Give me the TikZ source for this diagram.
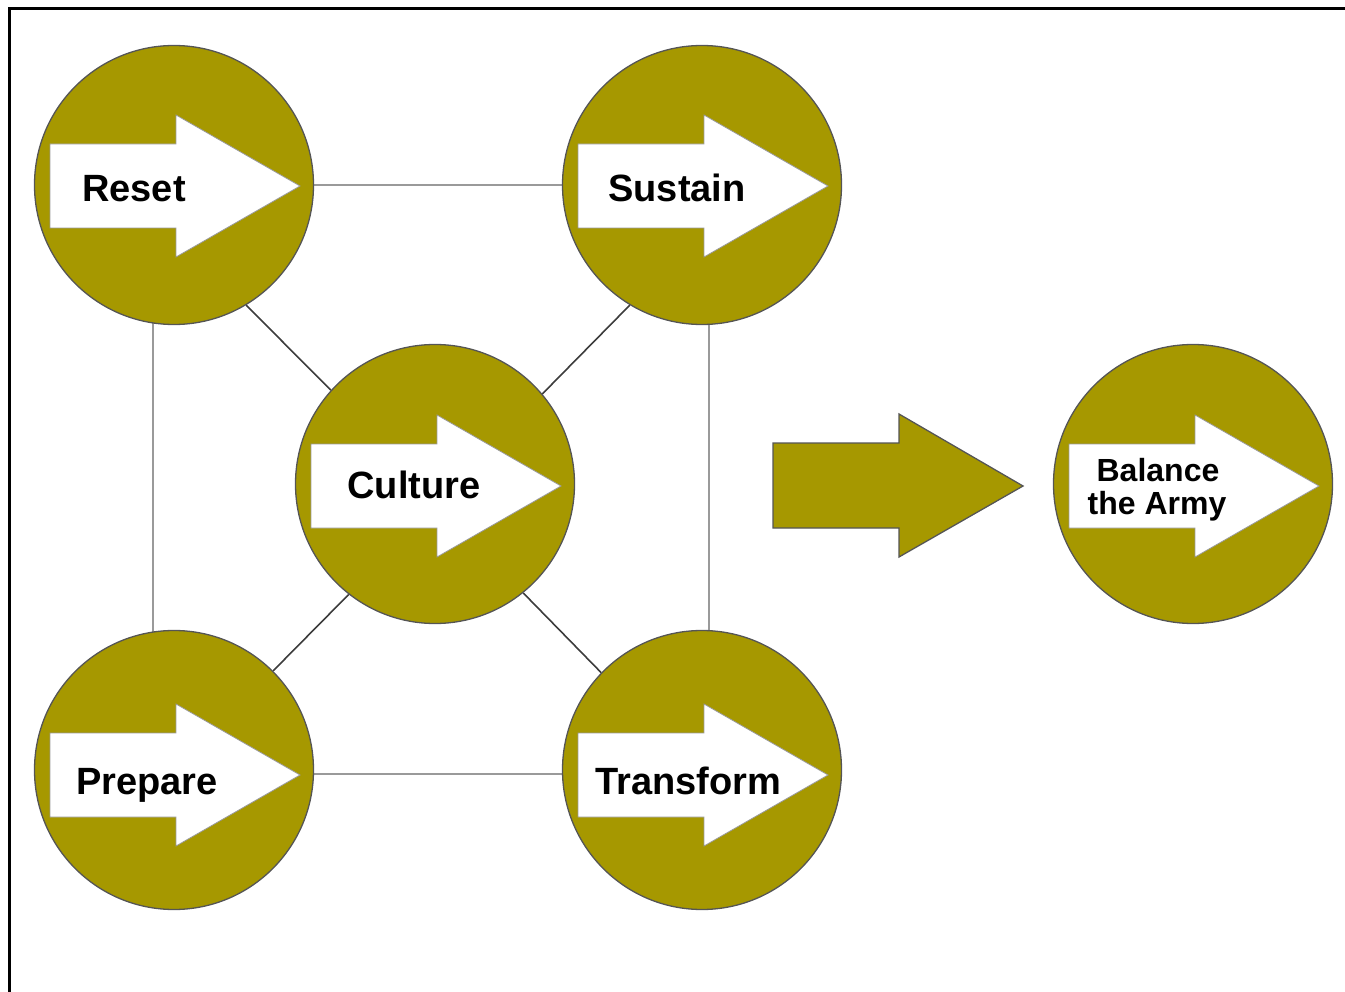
\documentclass[tikz,border=0pt]{standalone}
\usepackage{fontspec}
\setmainfont{Liberation Sans}
\usetikzlibrary{backgrounds}
\definecolor{oliv}{HTML}{A69800}
\definecolor{rim}{HTML}{555555}
\definecolor{lightlink}{HTML}{9A9A9A}
\definecolor{darklink}{HTML}{3C3C3C}
\tikzset{
  ball/.style={circle, fill=oliv, draw=rim, line width=1.3pt, minimum size=279pt, inner sep=0pt},
  warrow/.pic={\path[fill=white, draw=gray!80, line width=0.8pt]
      (-124,-42) -- (2,-42) -- (2,-71) -- (126,0) -- (2,71) -- (2,42) -- (-124,42) -- cycle;},
  txt/.style={font=\fontsize{38}{40}\selectfont\bfseries, inner sep=0pt, anchor=base},
  smalltxt/.style={font=\fontsize{32}{33}\selectfont\bfseries, inner sep=0pt, anchor=base},
  straightlink/.style={draw=lightlink, line width=2pt},
  diaglink/.style={draw=darklink, line width=1.6pt},
}
\begin{document}
\begin{tikzpicture}[x=1pt,y=-1pt]
\useasboundingbox (0,0) rectangle (1345,992);
\draw[line width=3pt] (9,992) -- (9,9) -- (1345,9);

\node[ball] (reset) at (174,185) {};
\node[ball] (sustain) at (702,185) {};
\node[ball] (culture) at (435,484) {};
\node[ball] (prepare) at (174,770) {};
\node[ball] (transform) at (702,770) {};
\node[ball] (balance) at (1193,484) {};

\begin{scope}[on background layer]
  \draw[straightlink] (reset.east) -- (sustain.west);
  \draw[straightlink] ([xshift=-4pt,yshift=-4pt]prepare.east) -- ([xshift=4pt,yshift=-4pt]transform.west);
  \draw[straightlink] ([xshift=-21pt]reset.center) -- ([xshift=-21pt]prepare.center);
  \draw[straightlink] ([xshift=7pt]sustain.center) -- ([xshift=7pt]transform.center);
  \draw[diaglink] (reset.-59) -- (culture.138);
  \draw[diaglink] (sustain.-121) -- (culture.40);
  \draw[diaglink] (culture.-128) -- (prepare.45);
  \draw[diaglink] (culture.-51) -- (transform.136);
\end{scope}

\pic at ([yshift=-1pt]reset.center) {warrow};
\pic at ([yshift=-1pt]sustain.center) {warrow};
\pic at ([yshift=-2pt]culture.center) {warrow};
\pic at ([yshift=-5pt]prepare.center) {warrow};
\pic at ([yshift=-5pt]transform.center) {warrow};
\pic at ([yshift=-2pt]balance.center) {warrow};

\node[txt] (tReset) at (134,202) {Reset};
\node[txt] (tSustain) at (677,202) {Sustain};
\node[txt] (tCulture) at (414,498) {Culture};
\node[txt] (tPrepare) at (147,794) {Prepare};
\node[txt] (tTransform) at (688,794) {Transform};
\node[smalltxt] (tBal1) at (1158,482) {Balance};
\node[smalltxt] (tBal2) at (1157,514) {the Army};

\path[fill=oliv, draw=rim, line width=1.3pt]
  (773,443) coordinate (bigtail) -- (899,443) -- (899,414) -- (1023,486) coordinate (bigtip)
  -- (899,557) -- (899,528) -- (773,528) -- cycle;
\end{tikzpicture}
\end{document}
